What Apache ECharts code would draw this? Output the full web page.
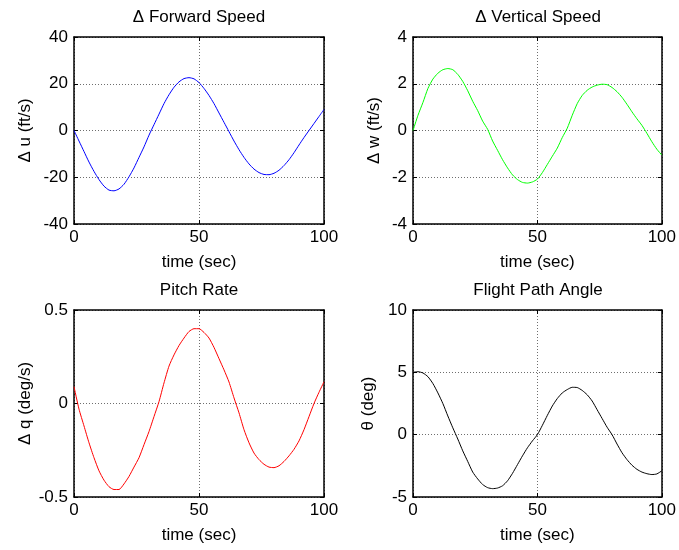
<!DOCTYPE html>
<html>
<head>
<meta charset="utf-8">
<script src="https://cdn.jsdelivr.net/npm/echarts@6/dist/echarts.min.js"></script>
<style>
  html, body { margin: 0; padding: 0; background: #fff; }
  #chart { width: 679px; height: 550px; }
</style>
</head>
<body>
<div id="chart"></div>
<script>
// Sample times (sec)
const time = [0, 2, 4, 6, 8, 10, 12, 14, 16, 18, 20, 22, 24, 26, 28, 30, 32, 34, 36, 38, 40,
  42, 44, 46, 48, 50, 52, 54, 56, 58, 60, 62, 64, 66, 68, 70, 72, 74, 76, 78, 80,
  82, 84, 86, 88, 90, 92, 94, 96, 98, 100];

// Δu forward speed (ft/s)
const deltaU = [0, -4.5, -9, -13.5, -17.5, -21, -23.8, -25.5, -25.8, -25, -23,
  -19.8, -16, -11.5, -7, -2, 2.5, 7, 11.5, 15.3, 18.5,
  20.8, 22.2, 22.6, 22.1, 20.5, 18, 15, 11.5, 7.5, 3.5,
  -0.5, -4.5, -8.2, -11.5, -14.3, -16.5, -18, -18.8, -18.9, -18.3,
  -17, -15, -12.5, -9.5, -6.2, -3, 0, 3, 6, 9];

// Δw vertical speed (ft/s)
const deltaW = [0, 0.65, 1.2, 1.8, 2.2, 2.45, 2.6, 2.65, 2.6, 2.4, 2.1,
  1.7, 1.25, 0.85, 0.4, 0.05, -0.45, -0.85, -1.25, -1.6, -1.9,
  -2.1, -2.22, -2.25, -2.2, -2.08, -1.8, -1.45, -1.1, -0.75, -0.3,
  0.1, 0.65, 1.15, 1.5, 1.72, 1.86, 1.94, 1.98, 1.96, 1.84,
  1.66, 1.42, 1.12, 0.8, 0.5, 0.22, -0.12, -0.48, -0.8, -1.05];

// Δq pitch rate (deg/s)
const deltaQ = [0.09, -0.03, -0.12, -0.21, -0.29, -0.36, -0.41, -0.445, -0.46, -0.46, -0.43,
  -0.39, -0.34, -0.29, -0.22, -0.15, -0.07, 0.01, 0.11, 0.2, 0.26,
  0.31, 0.35, 0.385, 0.4, 0.4, 0.38, 0.35, 0.3, 0.24, 0.18,
  0.115, 0.03, -0.05, -0.14, -0.21, -0.265, -0.3, -0.325, -0.34, -0.343,
  -0.333, -0.31, -0.28, -0.245, -0.2, -0.14, -0.07, 0.0, 0.06, 0.116];

// θ flight path angle (deg)
const theta = [5.0, 5.05, 4.95, 4.65, 4.1, 3.35, 2.5, 1.5, 0.55, -0.35, -1.3,
  -2.15, -3.0, -3.55, -4.0, -4.25, -4.33, -4.28, -4.1, -3.7, -3.1,
  -2.4, -1.7, -1.05, -0.5, 0.0, 0.75, 1.55, 2.3, 2.9, 3.35,
  3.62, 3.8, 3.78, 3.55, 3.2, 2.7, 2.0, 1.3, 0.6, 0.0,
  -0.75, -1.45, -2.0, -2.45, -2.78, -3.0, -3.13, -3.2, -3.15, -2.9];

const titles = ['\u0394 Forward Speed', '\u0394 Vertical Speed', 'Pitch Rate', 'Flight Path Angle'];
const yNames = ['\u0394 u (ft/s)', '\u0394 w (ft/s)', '\u0394 q (deg/s)', '\u03b8 (deg)'];
const yRanges = [[-40, 40, 20], [-4, 4, 2], [-0.5, 0.5, 0.5], [-5, 10, 5]];
const xRange = [0, 100, 50];
const xName = 'time (sec)';
const seriesValues = [deltaU, deltaW, deltaQ, theta];
const seriesColors = ['#0000ff', '#00ff00', '#ff0000', '#000000'];

const FONT = 'Liberation Sans, Arial, sans-serif';
const FS = 17;
const panels = [
  { left: 74, top: 37, yGap: 40 },
  { left: 413, top: 37, yGap: 30 },
  { left: 74, top: 310, yGap: 40 },
  { left: 413, top: 310, yGap: 36 }
];
const W = 250, H = 187;

const grid = [], xAxis = [], yAxis = [], series = [], title = [];
const textStyle = { color: '#000', fontSize: FS, fontFamily: FONT, fontWeight: 'normal' };
const frameLine = { show: true, onZero: false, lineStyle: { color: '#000', width: 1.5 } };
const innerTick = { show: true, inside: true, length: 4, lineStyle: { color: '#000', width: 1 } };
const gridLine = { show: true, lineStyle: { color: '#6e6e6e', width: 1, type: [1, 2] } };

panels.forEach((p, i) => {
  grid.push({ left: p.left, top: p.top, width: W, height: H, containLabel: false });
  title.push({
    text: titles[i], left: p.left + W / 2, top: p.top - 28, textAlign: 'center', padding: 0,
    textStyle: textStyle
  });
  // bottom / left axes carry labels, grid lines and names
  xAxis.push({
    gridIndex: i, type: 'value', min: xRange[0], max: xRange[1], interval: xRange[2],
    position: 'bottom', axisLine: frameLine, axisTick: innerTick,
    axisLabel: { color: '#000', fontSize: FS, fontFamily: FONT, margin: 5 },
    splitLine: gridLine,
    name: xName, nameLocation: 'middle', nameGap: 30, nameTextStyle: textStyle
  });
  yAxis.push({
    gridIndex: i, type: 'value', min: yRanges[i][0], max: yRanges[i][1], interval: yRanges[i][2],
    position: 'left', axisLine: frameLine, axisTick: innerTick,
    axisLabel: { color: '#000', fontSize: FS, fontFamily: FONT, margin: 6 },
    splitLine: gridLine,
    name: yNames[i], nameLocation: 'middle', nameGap: p.yGap, nameRotate: 90, nameTextStyle: textStyle
  });
  // top / right axes close the box with inward ticks
  xAxis.push({
    gridIndex: i, type: 'value', min: xRange[0], max: xRange[1], interval: xRange[2],
    position: 'top', axisLine: frameLine, axisTick: innerTick,
    axisLabel: { show: false }, splitLine: { show: false }
  });
  yAxis.push({
    gridIndex: i, type: 'value', min: yRanges[i][0], max: yRanges[i][1], interval: yRanges[i][2],
    position: 'right', axisLine: frameLine, axisTick: innerTick,
    axisLabel: { show: false }, splitLine: { show: false }
  });
  series.push({
    type: 'line', xAxisIndex: i * 2, yAxisIndex: i * 2,
    data: time.map((t, k) => [t, seriesValues[i][k]]),
    showSymbol: false, smooth: 0.2, silent: true,
    lineStyle: { color: seriesColors[i], width: 1 }
  });
});

const chart = echarts.init(document.getElementById('chart'), null, { renderer: 'canvas' });
chart.setOption({
  animation: false,
  backgroundColor: '#ffffff',
  title: title,
  grid: grid,
  xAxis: xAxis,
  yAxis: yAxis,
  series: series
});
</script>
</body>
</html>
